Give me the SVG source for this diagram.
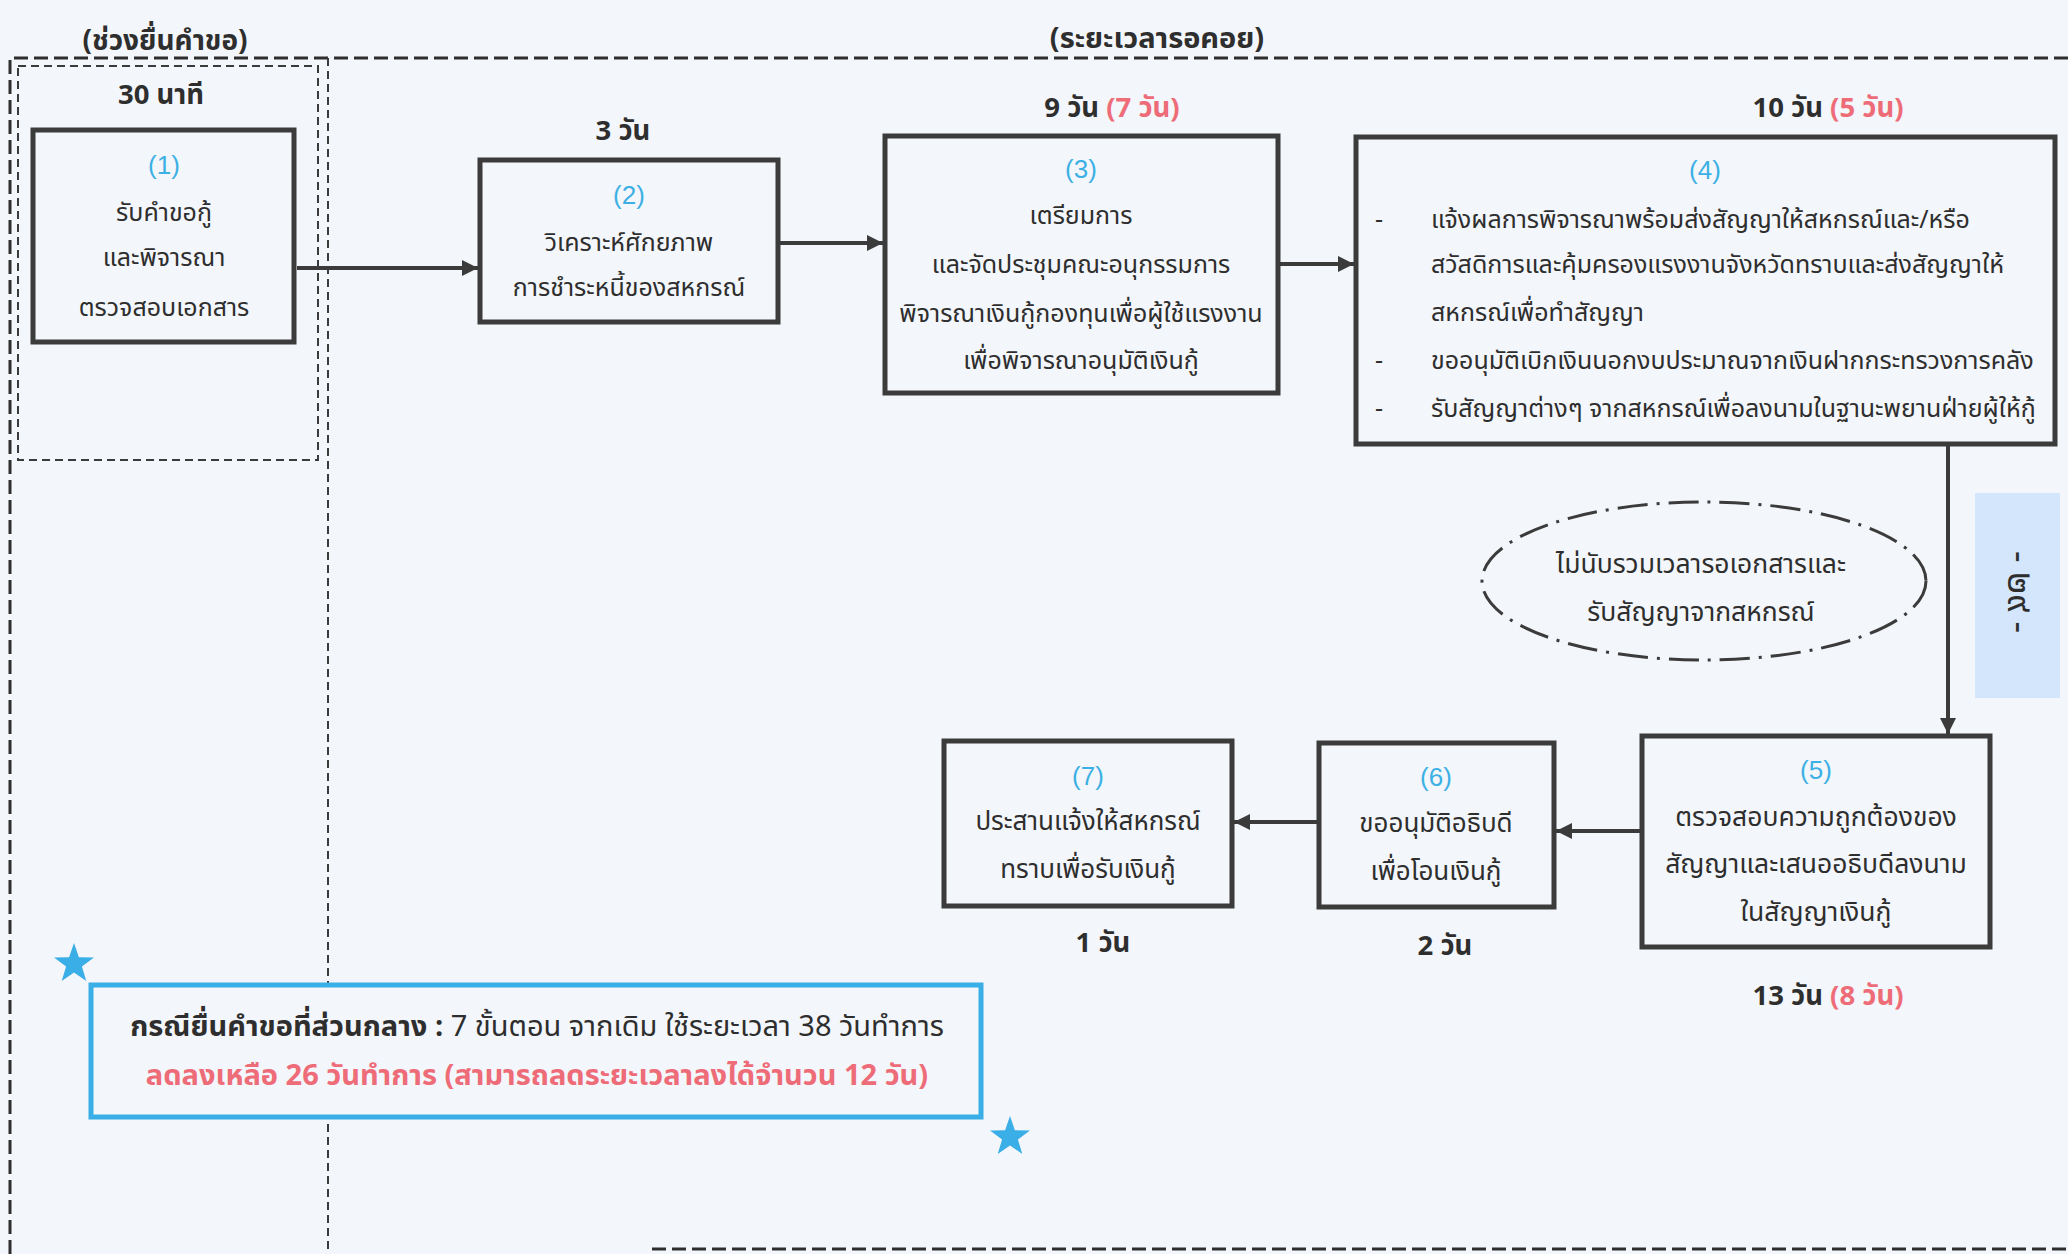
<svg xmlns="http://www.w3.org/2000/svg" width="2068" height="1254" viewBox="0 0 2068 1254">
<defs>
<style>
.t{font-family:"Noto Sans Thai","Noto Sans",sans-serif;font-size:25px;fill:#2e2e2e;text-anchor:middle}
.l{text-anchor:start}
.num{font-family:"Liberation Sans",Arial,sans-serif;font-size:26px;fill:#3cb0e4;text-anchor:middle}
.b{font-weight:bold}
.lb{font-size:27.5px;font-weight:bold}
.red{fill:#ee6b78}
.hdr{font-size:28px;font-weight:bold}
.box{fill:none;stroke:#3b3b3b;stroke-width:5}
.conn{fill:none;stroke:#3b3b3b;stroke-width:4;marker-end:url(#ah)}
.frame{fill:none;stroke:#2e2e2e;stroke-width:3;stroke-dasharray:14 6}
.thin{fill:none;stroke:#3b3b3b;stroke-width:2;stroke-dasharray:8 5}
.star{fill:#3aaee6}
</style>
<marker id="ah" viewBox="0 0 16 16" refX="16" refY="8" markerWidth="16" markerHeight="16" markerUnits="userSpaceOnUse" orient="auto">
<path d="M0,0 L16,8 L0,16 z" fill="#3b3b3b"/>
</marker>
</defs>
<rect width="2068" height="1254" fill="#f3f6fa"/>

<g id="frame">
<path class="frame" d="M10,1254 L10,58 L2068,58"/>
<path class="frame" d="M652,1249 L2068,1249"/>
<path class="thin" d="M328,58 L328,1254"/>
<rect id="intake-zone" class="thin" x="18" y="66" width="300" height="394"/>
<text class="t hdr" x="165" y="50">(ช่วงยื่นคำขอ)</text>
<text class="t hdr" x="1157" y="48" style="font-size:29px">(ระยะเวลารอคอย)</text>
</g>

<g id="connectors">
<path class="conn" d="M297,268 L478,268"/>
<path class="conn" d="M780,243 L883,243"/>
<path class="conn" d="M1280,264 L1354,264"/>
<path class="conn" d="M1948,446 L1948,734"/>
<path class="conn" d="M1640,831 L1556,831"/>
<path class="conn" d="M1317,822 L1234,822"/>
</g>

<g id="node1">
<text class="t lb" x="161" y="104">30 นาที</text>
<rect class="box" x="33" y="130" width="261" height="212"/>
<text class="num" x="164" y="174">(1)</text>
<text class="t" x="164" y="221">รับคำขอกู้</text>
<text class="t" x="164" y="266">และพิจารณา</text>
<text class="t" x="164" y="316">ตรวจสอบเอกสาร</text>
</g>

<g id="node2">
<text class="t lb" x="623" y="140">3 วัน</text>
<rect class="box" x="480" y="160" width="298" height="162"/>
<text class="num" x="629" y="204">(2)</text>
<text class="t" x="629" y="251">วิเคราะห์ศักยภาพ</text>
<text class="t" x="629" y="296">การชำระหนี้ของสหกรณ์</text>
</g>

<g id="node3">
<text class="t lb" x="1112" y="117">9 วัน <tspan class="red">(7 วัน)</tspan></text>
<rect class="box" x="885" y="136" width="393" height="257"/>
<text class="num" x="1081" y="178">(3)</text>
<text class="t" x="1081" y="224">เตรียมการ</text>
<text class="t" x="1081" y="273">และจัดประชุมคณะอนุกรรมการ</text>
<text class="t" x="1081" y="322">พิจารณาเงินกู้กองทุนเพื่อผู้ใช้แรงงาน</text>
<text class="t" x="1081" y="369">เพื่อพิจารณาอนุมัติเงินกู้</text>
</g>

<g id="node4">
<text class="t lb" x="1828" y="117">10 วัน <tspan class="red">(5 วัน)</tspan></text>
<rect class="box" x="1356" y="137" width="699" height="307"/>
<text class="num" x="1705" y="179">(4)</text>
<text class="t l" x="1375" y="228">-</text>
<text class="t l" x="1431" y="228">แจ้งผลการพิจารณาพร้อมส่งสัญญาให้สหกรณ์และ/หรือ</text>
<text class="t l" x="1431" y="273">สวัสดิการและคุ้มครองแรงงานจังหวัดทราบและส่งสัญญาให้</text>
<text class="t l" x="1431" y="321">สหกรณ์เพื่อทำสัญญา</text>
<text class="t l" x="1375" y="369">-</text>
<text class="t l" x="1431" y="369">ขออนุมัติเบิกเงินนอกงบประมาณจากเงินฝากกระทรวงการคลัง</text>
<text class="t l" x="1375" y="417">-</text>
<text class="t l" x="1431" y="417">รับสัญญาต่างๆ จากสหกรณ์เพื่อลงนามในฐานะพยานฝ่ายผู้ให้กู้</text>
</g>

<g id="note">
<ellipse cx="1704" cy="581" rx="222" ry="79" fill="none" stroke="#3b3b3b" stroke-width="3" stroke-dasharray="30 9 3 9"/>
<text class="t" x="1701" y="573" style="font-size:26.5px">ไม่นับรวมเวลารอเอกสารและ</text>
<text class="t" x="1701" y="621" style="font-size:26.5px">รับสัญญาจากสหกรณ์</text>
</g>

<g id="node5">
<rect class="box" x="1642" y="736" width="348" height="211"/>
<text class="num" x="1816" y="779">(5)</text>
<text class="t" x="1816" y="826" style="font-size:26.5px">ตรวจสอบความถูกต้องของ</text>
<text class="t" x="1816" y="873" style="font-size:26.5px">สัญญาและเสนออธิบดีลงนาม</text>
<text class="t" x="1816" y="921" style="font-size:26.5px">ในสัญญาเงินกู้</text>
<text class="t lb" x="1828" y="1005">13 วัน <tspan class="red">(8 วัน)</tspan></text>
</g>

<g id="node6">
<rect class="box" x="1319" y="743" width="235" height="164"/>
<text class="num" x="1436" y="786">(6)</text>
<text class="t" x="1436" y="832" style="font-size:26px">ขออนุมัติอธิบดี</text>
<text class="t" x="1436" y="880" style="font-size:26px">เพื่อโอนเงินกู้</text>
<text class="t lb" x="1445" y="955">2 วัน</text>
</g>

<g id="node7">
<rect class="box" x="944" y="741" width="288" height="165"/>
<text class="num" x="1088" y="785">(7)</text>
<text class="t" x="1088" y="830" style="font-size:26px">ประสานแจ้งให้สหกรณ์</text>
<text class="t" x="1088" y="878" style="font-size:26px">ทราบเพื่อรับเงินกู้</text>
<text class="t lb" x="1103" y="952">1 วัน</text>
</g>

<g id="summary">
<rect x="91" y="985" width="890" height="132" fill="#f3f6fa" stroke="#3aaee6" stroke-width="5"/>
<text class="t" x="537" y="1036" style="font-size:29px"><tspan class="b">กรณียื่นคำขอที่ส่วนกลาง :</tspan> 7 ขั้นตอน จากเดิม ใช้ระยะเวลา 38 วันทำการ</text>
<text class="t b red" x="537" y="1085" style="font-size:29px">ลดลงเหลือ 26 วันทำการ (สามารถลดระยะเวลาลงได้จำนวน 12 วัน)</text>
<polygon class="star" transform="translate(74,964)" points="0,-21 4.9,-6.8 20,-6.5 7.9,2.6 12.3,17 0,8.4 -12.3,17 -7.9,2.6 -20,-6.5 -4.9,-6.8"/>
<polygon class="star" transform="translate(1010,1137)" points="0,-21 4.9,-6.8 20,-6.5 7.9,2.6 12.3,17 0,8.4 -12.3,17 -7.9,2.6 -20,-6.5 -4.9,-6.8"/>
</g>

<g id="page-number">
<rect x="1975" y="493" width="85" height="205" fill="#d4e6fb"/>
<text class="t" x="2019" y="592" transform="rotate(90 2019 592)" dy="11" style="font-size:36px">- ๒๙ -</text>
</g>
</svg>
